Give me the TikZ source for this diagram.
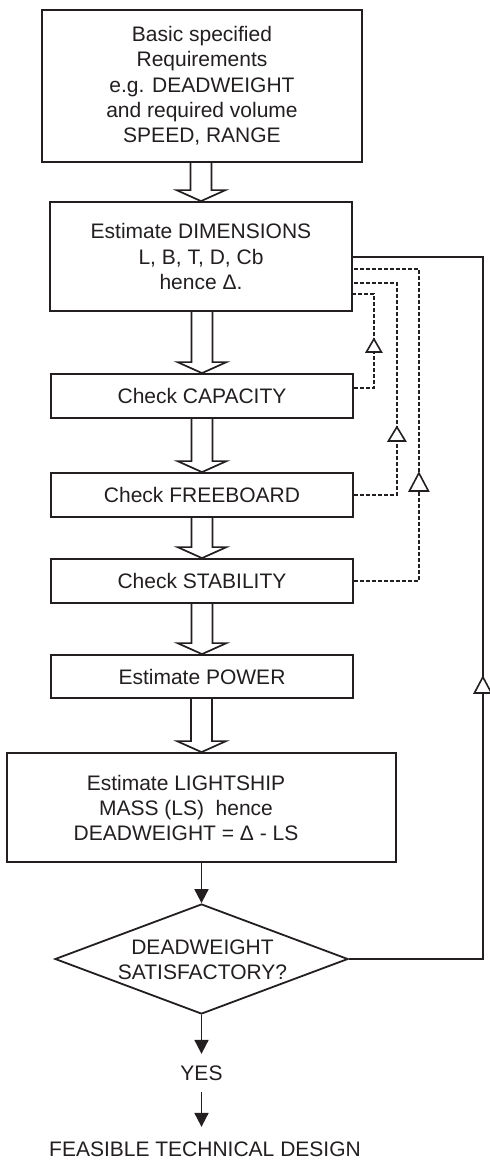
\documentclass[tikz,border=0pt]{standalone}
\usepackage{fontspec}
\setmainfont{Liberation Sans}
\usetikzlibrary{shapes.geometric,calc,arrows.meta,decorations.markings}

\definecolor{ink}{HTML}{231F20}

\tikzset{
  lbl/.style={font=\fontsize{21}{25.3}\selectfont, align=center, inner sep=0pt, text=ink},
  stepbox/.style={draw=ink, line width=1.8pt, rectangle, inner sep=0pt, align=center,
                  font=\fontsize{21}{25.3}\selectfont, text=ink},
  hollow/.style={draw=ink, line width=1.7pt, line join=miter},
  flow/.style={draw=ink, line width=1.8pt, -{Triangle[width=14pt,length=14pt]}},
  fbdash/.style={draw=ink, line width=1.4pt, dash pattern=on 4pt off 2pt},
  loopline/.style={draw=ink, line width=1.7pt},
  tri/.style={fill=white, draw=ink, line width=1.6pt, solid, line join=miter},
}

% wide open arrow between two stacked boxes
\newcommand\hollowarrow[2]{%
  \draw[hollow] ($(#1.south -| #2.north)+(-10.5,0)$) -- ($(#2.north)+(-10.5,-11)$)
    -- ($(#2.north)+(-24.5,-11)$) -- (#2.north) -- ($(#2.north)+(24.5,-11)$)
    -- ($(#2.north)+(10.5,-11)$) -- ($(#1.south -| #2.north)+(10.5,0)$);}

% open triangle drawn on a return line (length, half width)
\newcommand\fbtri[2]{\filldraw[tri] (0,0) -- (-#1,#2) -- (-#1,-#2) -- cycle;}

\begin{document}
\begin{tikzpicture}[x=1pt,y=-1pt]
\path[use as bounding box, fill=white] (0,0) rectangle (490,1160);

% process boxes
\node[stepbox, minimum width=320pt, minimum height=152pt] (req) at (202,86)
  {Basic specified\\Requirements\\e.g. DEADWEIGHT\\and required volume\\SPEED, RANGE};
\node[stepbox, minimum width=302pt, minimum height=109pt] (dim) at (201,256.5)
  {Estimate DIMENSIONS\\L, B, T, D, Cb\\hence Δ.};
\node[stepbox, minimum width=302pt, minimum height=44pt] (cap) at (202,396) {Check CAPACITY};
\node[stepbox, minimum width=302pt, minimum height=44pt] (frb) at (202,495) {Check FREEBOARD};
\node[stepbox, minimum width=302pt, minimum height=44pt] (stab) at (202,581) {Check STABILITY};
\node[stepbox, minimum width=302pt, minimum height=43pt] (pow) at (202,676.5) {Estimate POWER};
\node[stepbox, minimum width=389pt, minimum height=109pt] (ls) at (201.5,807.5) {};
\node[lbl] (lstext) at (186,808)
  {Estimate LIGHTSHIP\\MASS (LS)~~hence\\DEADWEIGHT = Δ - LS};

% decision
\node[diamond, draw=ink, line width=1.8pt, minimum width=293pt, minimum height=110pt,
      inner sep=0pt] (dec) at (201.5,959) {};
\node[lbl] (dectext) at (202.5,959.5) {DEADWEIGHT\\SATISFACTORY?};

\node[lbl, inner ysep=11.5pt] (yes) at (201.5,1073) {YES};
\node[lbl, inner ysep=14.5pt] (feas) at (205,1149) {FEASIBLE TECHNICAL DESIGN};

% main sequence
\hollowarrow{req}{dim}
\hollowarrow{dim}{cap}
\hollowarrow{cap}{frb}
\hollowarrow{frb}{stab}
\hollowarrow{stab}{pow}
\hollowarrow{pow}{ls}

\draw[flow] (ls.south) -- (dec.north);
\draw[flow] (dec.south) -- (yes.north);
\draw[flow] (yes.south) -- (yes.south |- feas.north);

% check feedback loops
\draw[fbdash, postaction={decorate},
      decoration={markings, mark=at position 69pt with {\fbtri{13}{7.5}}}]
  ($(cap.east)+(0,-8)$) -| ($(dim.east)+(21,37.5)$) -- ($(dim.east)+(0,37.5)$);
\draw[fbdash, postaction={decorate},
      decoration={markings, mark=at position 111pt with {\fbtri{14}{8.5}}}]
  (frb.east) -| ($(dim.east)+(44,26.5)$) -- ($(dim.east)+(0,26.5)$);
\draw[fbdash, postaction={decorate},
      decoration={markings, mark=at position 173pt with {\fbtri{18}{9.5}}}]
  (stab.east) -| ($(dim.east)+(66,12.5)$) -- ($(dim.east)+(0,12.5)$);

% deadweight loop back to dimensions
\draw[loopline, postaction={decorate},
      decoration={markings, mark=at position 416pt with {\fbtri{16}{8.5}}}]
  (dec.east) -| ($(dim.east)+(130,0.5)$) -- ($(dim.east)+(0,0.5)$);
\end{tikzpicture}
\end{document}
